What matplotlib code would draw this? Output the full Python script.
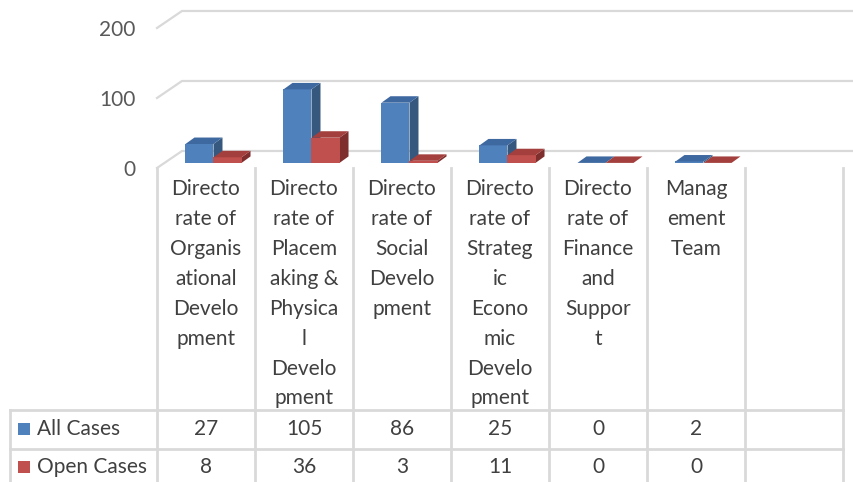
import matplotlib.pyplot as plt
from matplotlib.patches import Polygon, Rectangle
import numpy as np

plt.rcParams['font.family'] = ['Lato', 'DejaVu Sans']

# data
categories = ['Directo\nrate of\nOrganis\national\nDevelo\npment',
              'Directo\nrate of\nPlacem\naking &\nPhysica\nl\nDevelo\npment',
              'Directo\nrate of\nSocial\nDevelo\npment',
              'Directo\nrate of\nStrateg\nic\nEcono\nmic\nDevelo\npment',
              'Directo\nrate of\nFinance\nand\nSuppor\nt',
              'Manag\nement\nTeam',
              '']
series_names = ['All Cases', 'Open Cases']
all_cases = [27, 105, 86, 25, 0, 2, None]
open_cases = [8, 36, 3, 11, 0, 0, None]
yticks = [0, 100, 200]

# colours (front, top, side)
blue = ('#4F81BD', '#3E68A0', '#36587F')
red = ('#C0504D', '#A33F3C', '#7E2F2D')
grid_c = '#D9D9D9'
txt_c = '#404040'
fs = 15

ncat = len(categories)
DX, DY = 0.255, 24.3          # full depth of the 3d floor, in data units
ox, oy = 0.3 * DX, 0.3 * DY   # bars' front face offset
bx, by = 0.36 * DX, 0.38 * DY # bar depth
w = 0.286

fig = plt.figure(figsize=(8.54, 4.82), dpi=100)
ax = fig.add_axes([157 / 854, (482 - 168) / 482, 686 / 854, 168 / 482])
ax.set_xlim(0, ncat)
ax.set_ylim(0, 240)
ax.axis('off')

# walls / gridlines
for v in yticks:
    ax.plot([0, DX, ncat + DX + 0.3], [v, v + DY, v + DY], color=grid_c, lw=1.6,
            clip_on=False, zorder=1)
    ax.text(-0.22, v - 3, str(v), ha='right', va='center', fontsize=fs, color='#595959')


def bar3d(x, v, cols):
    x0, y0 = x + ox, oy
    front = Rectangle((x0, y0), w, v, facecolor=cols[0], edgecolor='none', zorder=3)
    top = Polygon([(x0, y0 + v), (x0 + w, y0 + v), (x0 + w + bx, y0 + v + by),
                   (x0 + bx, y0 + v + by)], closed=True, facecolor=cols[1],
                  edgecolor='none', zorder=3)
    side = Polygon([(x0 + w, y0), (x0 + w + bx, y0 + by), (x0 + w + bx, y0 + v + by),
                    (x0 + w, y0 + v)], closed=True, facecolor=cols[2],
                   edgecolor='none', zorder=3)
    for p in (side, front, top):
        ax.add_patch(p)
        p.set_clip_on(False)


for i in range(ncat):
    if all_cases[i] is None:
        continue
    bar3d(i + 0.5 - w, all_cases[i], blue)
    bar3d(i + 0.5, open_cases[i], red)

# data table
tax = fig.add_axes([0, 0, 1, (482 - 168) / 482])
tax.set_xlim(-157 / 98, 697 / 98)
tax.set_ylim(482, 168)
tax.axis('off')

row_top, row_mid, row_bot = 410, 449, 490
for i in range(ncat + 1):
    tax.plot([i, i], [168, row_bot], color=grid_c, lw=2, clip_on=False)
left = -147 / 98
tax.plot([left, left], [row_top, row_bot], color=grid_c, lw=2, clip_on=False)
for yy in (row_top, row_mid):
    tax.plot([left, ncat], [yy, yy], color=grid_c, lw=2)

for i, lab in enumerate(categories):
    tax.text(i + 0.5, 179, lab, ha='center', va='top', fontsize=fs, color=txt_c,
             linespacing=1.62)

rows = [all_cases, open_cases]
keys = [blue[0], red[0]]
for r, (name, vals) in enumerate(zip(series_names, rows)):
    yc = 429 if r == 0 else 467
    tax.add_patch(Rectangle((-139 / 98, yc - 6), 12 / 98, 12, facecolor=keys[r],
                            edgecolor='none'))
    tax.text(-120 / 98, yc, name, ha='left', va='center', fontsize=fs, color=txt_c)
    for i, v in enumerate(vals):
        if v is not None:
            tax.text(i + 0.5, yc, str(v), ha='center', va='center', fontsize=fs,
                     color=txt_c)

fig.savefig('out.png', dpi=100)
